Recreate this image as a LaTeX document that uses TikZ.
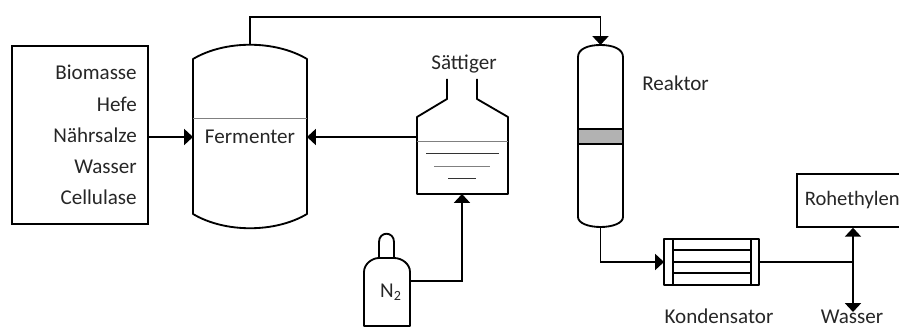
\documentclass[tikz,border=0pt]{standalone}
\usepackage{fontspec}
\setmainfont{Carlito}
\usetikzlibrary{arrows.meta}

\tikzset{
  label text/.style={font=\fontsize{12}{17.7}\selectfont, text=black!85, inner sep=0pt},
  vessel/.style={line width=1.05pt, line join=round},
  pipe/.style={line width=1.05pt},
  flow/.style={pipe, -{Triangle[length=5pt, width=9pt]}},
  thin line/.style={line width=0.5pt, black!80},
  grey line/.style={line width=0.55pt, black!50}
}

\begin{document}
\begin{tikzpicture}[x=0.02cm, y=-0.02cm]

\clip (0,0) rectangle (899,327);

\node[label text, draw=black, line width=1.05pt, minimum width=77pt, minimum height=101pt, inner xsep=6.2pt, text width=64.6pt, align=right] (einsatz) at (80,135) {Biomasse\\Hefe\\Nährsalze\\Wasser\\Cellulase};
\node[label text] (fermenter) at (250,137) {Fermenter};
\node[label text] (saettiger) at (464,64) {Sättiger};
\node[label text] (stickstoff) at (391,292) {N\textsubscript{2}};
\node[label text, anchor=west] (reaktor) at (642,83) {Reaktor};
\node[label text, font=\fontsize{11.7}{14}\selectfont, draw=black, line width=1.05pt, minimum width=63pt, minimum height=30pt, inner xsep=4.5pt, anchor=west] (rohethylen) at (796,200.5) {\makebox[57pt][l]{Rohethylen}};
\node[label text, anchor=base] (kondensator) at (719,324) {Kondensator};
\node[label text, anchor=base] (wasser) at (852,324) {Wasser};

\coordinate (fermenterin) at (193,137);
\coordinate (fermenteraus) at (307,137);
\coordinate (fermenteroben) at (250,45);
\coordinate (saettigerin) at (462,194);
\coordinate (saettigeraus) at (417,137);
\coordinate (flascheaus) at (410,281);
\coordinate (reaktorin) at (600.5,45);
\coordinate (reaktoraus) at (600.5,227);
\coordinate (kondensatorin) at (664,262);
\coordinate (kondensatoraus) at (759,262);
\coordinate (abzweig) at (853,262);
\coordinate (wasseraus) at (853,312);

% Fermenter
\draw[vessel] (193,59) .. controls (225,40) and (275,40) .. (307,59) -- (307,214) .. controls (275,233) and (225,233) .. (193,214) -- cycle;
\draw[grey line] (193,118) -- (307,118);

% Saettiger
\draw[vessel] (447,79) -- (447,99) -- (417,117) -- (417,194) -- (508,194) -- (508,117) -- (477,99) -- (477,79);
\draw[grey line] (417,141) -- (508,141);
\draw[thin line] (426,153) -- (499,153);
\draw[grey line] (434,166) -- (490,166);
\draw[thin line] (448,178) -- (476,178);

% Flasche
\draw[vessel] (364,326) -- (364,272) .. controls (364,264) and (372,258) .. (379,258) -- (394,258) .. controls (402,258) and (410,264) .. (410,272) -- (410,326) -- cycle;
\draw[vessel] (379,258) -- (379,242) .. controls (379,231) and (394,231) .. (394,242) -- (394,258);

% Reaktor
\draw[vessel, fill=black!30] (578,129) rectangle (623,144);
\draw[vessel] (578,57) .. controls (578,49) and (588,45) .. (600.5,45) .. controls (613,45) and (623,49) .. (623,57) -- (623,217) .. controls (623,223) and (613,227) .. (600.5,227) .. controls (588,227) and (578,223) .. (578,217) -- cycle;

% Kondensator
\draw[vessel] (664,239) rectangle (759,285);
\draw[vessel] (673,239) -- (673,285);
\draw[vessel] (751,239) -- (751,285);
\draw[pipe] (673,250) -- (751,250);
\draw[pipe] (673,262) -- (751,262);
\draw[pipe] (673,273) -- (751,273);

\draw[flow] (einsatz.east |- fermenterin) -- (fermenterin);
\draw[flow] (saettigeraus) -- (fermenteraus);
\draw[flow] (flascheaus) -| (saettigerin);
\draw[flow] (fermenteroben) |- (600.5,17) -- (reaktorin);
\draw[flow] (reaktoraus) |- (kondensatorin);
\draw[pipe] (kondensatoraus) -- (abzweig);
\draw[flow] (abzweig) -- (abzweig |- rohethylen.south);
\draw[flow] (abzweig) -- (wasseraus);

\end{tikzpicture}
\end{document}
